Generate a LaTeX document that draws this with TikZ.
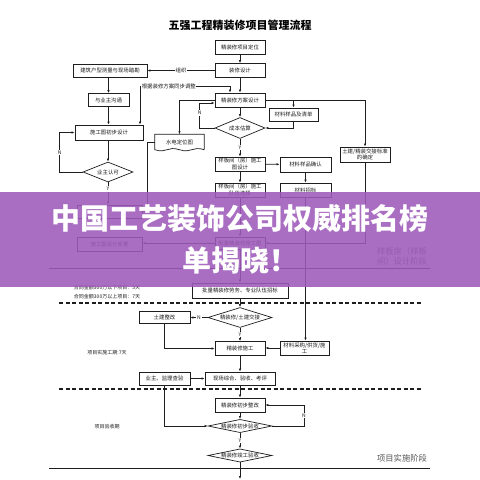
\documentclass[tikz,border=0pt]{standalone}
\usepackage{fontspec}
\setmainfont{Noto Sans CJK SC}
\usetikzlibrary{arrows.meta,positioning,calc,shapes.geometric}
\definecolor{ink}{HTML}{1E1E1E}
\definecolor{soft}{HTML}{555555}
\definecolor{banner}{HTML}{9E5BBA}
\tikzset{
  >={Latex[length=3pt,width=2.4pt]},
  every node/.style={font=\fontsize{5.4}{6.2}\selectfont, text=ink},
  box/.style={draw=ink, line width=0.7pt, align=center, inner sep=1pt,
    minimum height=14pt, minimum width=50pt},
  choice/.style={diamond, aspect=3, draw=ink, line width=0.7pt, inner sep=0pt,
    minimum width=64pt, minimum height=20pt},
  flat/.style={choice, aspect=4.6, minimum height=0pt},
  doc/.style={minimum width=49pt, minimum height=15pt, inner sep=1pt},
  arrow/.style={->, line width=0.6pt, draw=ink},
  link/.style={line width=0.6pt, draw=ink},
  lbl/.style={inner sep=0.6pt},
  yn/.style={font=\fontsize{5}{5}\selectfont, inner sep=0.8pt},
  phase/.style={line width=0.9pt, draw=ink},
  phasedash/.style={line width=1.1pt, draw=ink, dash pattern=on 4pt off 2.5pt},
  annot/.style={font=\fontsize{5}{9}\selectfont},
  stagelabel/.style={font=\fontsize{8.3}{9.6}\selectfont, text=soft, align=left},
  headline/.style={font=\fontsize{11}{12}\bfseries\selectfont, text=black},
  bannertext/.style={font=\fontsize{29}{30}\bfseries\selectfont, text=white}
}

\begin{document}
\begin{tikzpicture}[x=1pt, y=-1pt]
  \useasboundingbox (0,0) rectangle (480,480);
  \fill[white] (0,0) rectangle (480,480);

  % Title
  \node[headline] (title) at (240,25) {五强工程精装修项目管理流程};

  % Design stage, centre column
  \node[box] (dingwei) at (240,47) {精装修项目定位};
  \node[box] (sheji) at (240,70.5) {装修设计};
  \node[box] (fangan) at (240,100) {精装修方案设计};
  \node[choice, minimum width=50pt, minimum height=21pt] (guzhi) at (240,128) {成本估算};
  \node[box] (ybsheji) at (240,164) {样板间（房）施工\\图设计};
  \node[box] (duiwu) at (240,190) {样板间（房）施工\\队伍选择};
  \node[box, minimum height=12pt] (pltu) at (240,243) {批量精装修施工图};

  % Left column
  \node[box, minimum width=74pt, minimum height=13pt] (celiang) at (110,70.5) {建筑户型测量与现场踏勘};
  \node[box, minimum width=41pt, minimum height=13pt] (goutong) at (108.5,100) {与业主沟通};
  \node[box, minimum width=68pt, minimum height=15pt] (chubu) at (109,132.5) {施工图初步设计};
  \node[choice, minimum width=50pt] (renke) at (108,172) {业主认可};
  \node[box, minimum width=65pt, minimum height=13pt] (shentu) at (109.5,211.5) {};
  \node[box, minimum width=65pt] (biangeng) at (109.5,244) {施工图设计变更};

  % Right column
  \node[box, minimum width=49pt, minimum height=13pt] (qingdan) at (293.5,114.5) {材料样品及清单};
  \node[box, minimum height=15pt] (jiaojie) at (365,154.5) {土建/精装交接标准\\的确定};
  \node[box, minimum width=51pt, minimum height=15pt] (queren) at (305.5,164.5) {材料样品确认};
  \node[box, minimum width=51pt] (zhaobiao) at (305.5,190) {材料招标};
  \node[doc] (shuidian) at (179.5,142) {水电定位图};
  \draw[link, line width=0.7pt] (shuidian.south east) -- (shuidian.north east) -- (shuidian.north west)
    -- (shuidian.south west) .. controls +(12,4) and +(-12,-4) .. (shuidian.south)
    .. controls +(12,4) and +(-12,-4) .. (shuidian.south east);

  % Implementation and acceptance
  \node[box, minimum width=96pt, minimum height=15pt] (laowu) at (240,290.5) {批量精装修劳务、专业队伍招标};
  \node[choice] (jiaojiedia) at (240,317.5) {精装修/土建交接};
  \node[box, minimum width=51pt, minimum height=12pt] (zhenggai) at (164.5,317.5) {土建整改};
  \node[box] (shigong) at (240,348.5) {精装修施工};
  \node[box, minimum width=49pt] (caigou) at (304.5,348) {材料采购/供货/施\\工};
  \node[box, minimum width=70pt, minimum height=13pt] (yanshou) at (240,378.5) {现场综合、验收、考评};
  \node[box, minimum width=51pt, minimum height=13pt] (chayan) at (164.5,378.5) {业主、监理查验};
  \node[box] (czhenggai) at (240,405) {精装修初步整改};
  \node[flat] (cyanshou) at (240,426) {精装修初步验收};
  \node[flat] (jungong) at (240,455.5) {精装修竣工验收};
  \coordinate (out) at (240,479);

  % Stage lines
  \draw[phase] (49,268) -- (430,268);
  \draw[phasedash] (59,303) -- (422,303);
  \draw[phasedash] (59,389) -- (422,389);
  \draw[phase] (49,468) -- (430,468);

  % Notes
  \node[annot, align=left] (jine) at (107,292.5) {合同金额300万以下项目：5天\\合同金额300万以上项目：7天};
  \node[annot] (gongqi) at (107,353) {项目实施工期:7天};
  \node[annot] (yanshouqi) at (107,427) {项目验收期};
  \node[stagelabel] (ybstage) at (402,256.5) {样板房（样板\\间）设计阶段};
  \node[stagelabel] (ssstage) at (402,458) {项目实施阶段};

  % Connectors, design stage
  \coordinate (tiaozheng-l) at (140,86);
  \coordinate (tiaozheng-r) at (230,86);
  \draw[arrow] (dingwei) -- (sheji);
  \draw[arrow] (sheji) -- node[lbl, fill=white] (zuzhi) {组织} (celiang);
  \draw[arrow] (sheji) -- (fangan);
  \draw[arrow] (goutong.north |- celiang.south) -- (goutong.north);
  \draw[arrow] (goutong.south) -- (goutong.south |- chubu.north);
  \draw[link, <->] (chubu.north -| tiaozheng-l) -- (tiaozheng-l)
    -- node[lbl, fill=white, pos=0.32] (tiaozheng) {根据装修方案同步调整} (tiaozheng-r)
    -- (fangan.north -| tiaozheng-r);
  \draw[arrow] (chubu.south -| renke) -- (renke.north);
  \draw[arrow] (renke.west) -- ++(-23,0) |- node[yn, pos=0.25, fill=white] (renke-n) {N} (chubu.west);
  \draw[arrow] (renke.south) -- node[yn, fill=white, pos=0.3] (renke-y) {Y} (renke.south |- shentu.north);
  \draw[arrow] (fangan) -- (guzhi);
  \draw[arrow] (guzhi.west) -- ++(-15,0) |- node[yn, pos=0.3, fill=white] (guzhi-n) {N} ([yshift=-3pt]fangan.west);
  \draw[arrow] (fangan.east) -| (jiaojie.north);
  \draw[arrow] (qingdan.north |- fangan.east) -- (qingdan.north);
  \draw[arrow] (qingdan.south) |- (guzhi.east);
  \draw[arrow] (fangan.west) -| (shuidian.north);
  \draw[arrow] (guzhi.south) -- node[yn, fill=white] (guzhi-y) {Y} (ybsheji.north);
  \draw[arrow] (ybsheji) -- (queren);
  \draw[arrow] (queren) -- (zhaobiao);
  \draw[arrow] (ybsheji) -- (duiwu);
  \draw[arrow] (duiwu) -- (pltu);
  \draw[arrow] (pltu.west) -- (pltu.west -| biangeng.east);
  \draw[arrow] (jiaojie.south) |- (pltu.east);
  \draw[arrow] (shuidian.west) -- ++(-8,0) |- (shentu.east);

  % Connectors, implementation and acceptance
  \draw[arrow] (pltu) -- (laowu);
  \draw[arrow] (zhaobiao.south) -- (zhaobiao.south |- caigou.north);
  \draw[arrow] (laowu) -- (jiaojiedia);
  \draw[arrow] (jiaojiedia) -- node[yn, fill=white] (jiaojie-n) {N} (zhenggai);
  \draw[arrow] (zhenggai.south) |- (shigong.west);
  \draw[arrow] (jiaojiedia) -- node[yn, fill=white] (jiaojie-y) {Y} (shigong);
  \draw[arrow] (caigou.west) -- (caigou.west -| shigong.east);
  \draw[arrow] (shigong) -- (yanshou);
  \draw[arrow] (chayan) -- (yanshou);
  \draw[arrow] (chayan.south) |- (cyanshou.west);
  \draw[arrow] (yanshou) -- (czhenggai);
  \draw[arrow] (czhenggai) -- (cyanshou);
  \draw[arrow] (cyanshou.east) -- ++(31.5,0) |- node[yn, pos=0.25, fill=white] (cyanshou-n) {N} (czhenggai.east);
  \draw[arrow] (cyanshou) -- node[yn, fill=white] (cyanshou-y) {Y} (jungong);
  \draw[arrow] (jungong) -- (out);

  % Banner on top
  \fill[banner, opacity=0.88] (0,192) rectangle (480,287);
  \node[bannertext] (banner1) at (240,218) {中国工艺装饰公司权威排名榜};
  \node[bannertext] (banner2) at (240,260) {单揭晓！};
\end{tikzpicture}
\end{document}
